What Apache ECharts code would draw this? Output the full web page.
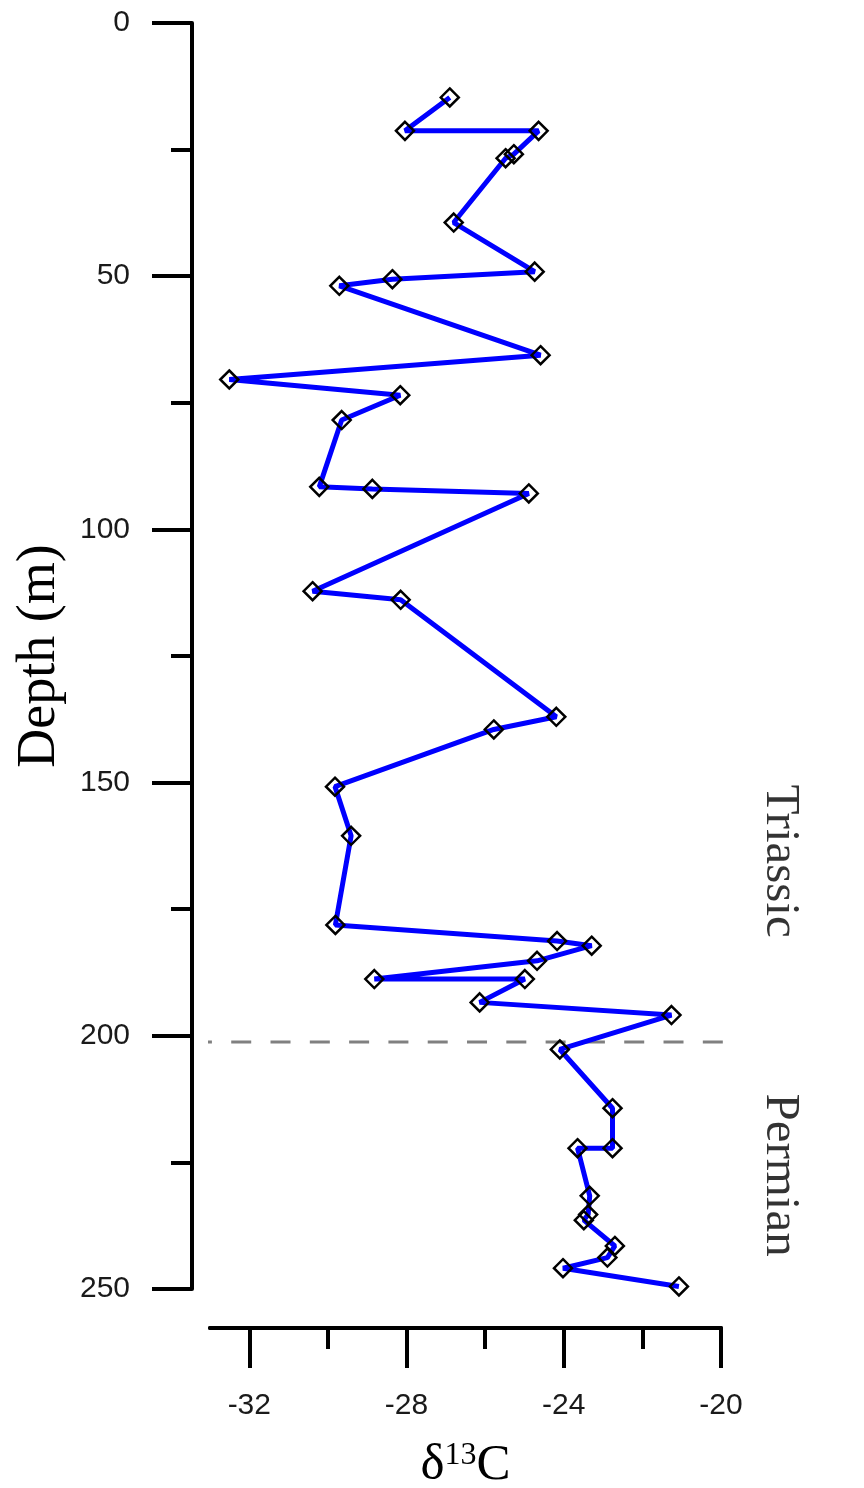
<!DOCTYPE html>
<html>
<head>
<meta charset="utf-8">
<script src="https://cdn.jsdelivr.net/npm/echarts@6/dist/echarts.min.js"></script>
<style>
html,body{margin:0;padding:0;background:#fff;}
#chart{width:864px;height:1488px;}
</style>
</head>
<body>
<div id="chart"></div>
<script>
// Depth (m) of each sample
const depths = [14.7, 21.3, 21.3, 25.9, 26.7, 39.4, 49.1, 50.6, 51.9, 65.6, 70.4, 73.5, 78.4, 91.6, 92.0, 92.9,
  112.2, 113.9, 137.0, 139.5, 150.8, 160.5, 178.1, 181.3, 182.2, 185.2, 188.8, 188.8, 193.4, 195.9,
  202.7, 214.3, 222.2, 222.2, 231.6, 235.3, 236.4, 241.5, 243.8, 245.9, 249.5];
// delta 13C values
const d13C = [-26.90, -28.04, -24.64, -25.27, -25.48, -26.80, -24.74, -28.36, -29.71, -24.59, -32.51, -28.16,
  -29.65, -30.22, -28.87, -24.89, -30.39, -28.15, -24.19, -25.78, -29.82, -29.41, -29.81, -24.17, -23.29,
  -24.68, -28.82, -24.99, -26.14, -21.26, -24.10, -22.76, -22.76, -23.65, -23.34, -23.38, -23.49, -22.70,
  -22.89, -24.02, -21.07];
// Axis ticks
const xMajorTicks = [-32, -28, -24, -20];
const xMinorTicks = [-30, -26, -22];
const depthTicks = [0, 50, 100, 150, 200, 250];
// Boundary (Triassic / Permian)
const boundaryDepth = 201.2;
const boundaryX = [-33.46, -16.3];
// Period labels: [x, depth, text]
const periodLabels = [[-18.5, 165.5, 'Triassic'], [-18.5, 227.5, 'Permian']];

const chart = echarts.init(document.getElementById('chart'), null, {renderer: 'canvas'});
const sans = 'Liberation Sans, Arial, sans-serif';
const serif = 'Liberation Serif, Times New Roman, serif';

const GRID_TOP = 23, GRID_BOTTOM = 199, X_OFFSET = 39;
const gridHeight = 1488 - GRID_TOP - GRID_BOTTOM;

const xBase = {
  type: 'value', min: -33, max: -20,
  splitLine: {show: false},
  axisLine: {show: true, onZero: false, lineStyle: {color: '#000', width: 4}},
};

const option = {
  animation: false,
  backgroundColor: '#fff',
  grid: {left: 210, right: 143, top: GRID_TOP, bottom: GRID_BOTTOM, containLabel: false, outerBoundsMode: 'none'},
  xAxis: [
    Object.assign({}, xBase, {
      position: 'bottom', offset: X_OFFSET,
      axisTick: {show: true, length: 40, lineStyle: {color: '#000', width: 4}, customValues: xMajorTicks},
      axisLabel: {show: true, customValues: xMajorTicks, margin: 63, fontSize: 30, fontFamily: sans, color: '#1a1a1a'},
      name: '{d|δ}{s|13}{d|C}', nameLocation: 'middle', nameGap: 112,
      nameTextStyle: {
        rich: {
          d: {fontSize: 51, fontFamily: serif, color: '#000', lineHeight: 51},
          s: {fontSize: 32, fontFamily: serif, color: '#000', lineHeight: 26, verticalAlign: 'top'}
        }
      }
    }),
    // minor ticks: a second copy of the same scale drawn on the same line
    Object.assign({}, xBase, {
      position: 'top', offset: -(gridHeight + X_OFFSET),
      axisTick: {show: true, inside: true, length: 21, lineStyle: {color: '#000', width: 4}, customValues: xMinorTicks},
      axisLabel: {show: false}
    })
  ],
  yAxis: {
    type: 'value', inverse: true, min: 0, max: 250, interval: 50,
    position: 'left', offset: 18,
    splitLine: {show: false},
    axisLine: {show: true, onZero: false, lineStyle: {color: '#000', width: 4}},
    axisTick: {show: true, length: 40, lineStyle: {color: '#000', width: 4}},
    minorTick: {show: true, splitNumber: 2, length: 21, lineStyle: {color: '#000', width: 4}},
    axisLabel: {margin: 62, fontSize: 30, fontFamily: sans, color: '#1a1a1a',
      formatter: v => depthTicks.includes(v) ? String(v) : ''},
    name: 'Depth (m)', nameLocation: 'middle', nameGap: 125,
    nameTextStyle: {fontSize: 54, fontFamily: serif, color: '#000'}
  },
  series: [
    {
      type: 'line', xAxisIndex: 0, clip: false, silent: true, symbol: 'none',
      lineStyle: {color: '#808080', width: 3, type: [20, 19.3]},
      data: boundaryX.map(x => [x, boundaryDepth]), z: 1
    },
    {
      type: 'line', xAxisIndex: 0, silent: true,
      symbol: 'diamond', symbolSize: 18,
      lineStyle: {color: '#0000ff', width: 5},
      itemStyle: {color: 'rgba(0,0,0,0)', borderColor: '#000', borderWidth: 2.5},
      data: d13C.map((v, i) => [v, depths[i]]), z: 3
    },
    {
      type: 'scatter', xAxisIndex: 0, clip: false, silent: true, symbolSize: 0,
      data: periodLabels.map(p => ({value: [p[0], p[1]], name: p[2]})),
      label: {show: true, position: 'inside', formatter: p => p.name, rotate: -90,
        fontSize: 49, fontFamily: serif, color: '#000'}
    }
  ]
};
chart.setOption(option);
</script>
</body>
</html>
